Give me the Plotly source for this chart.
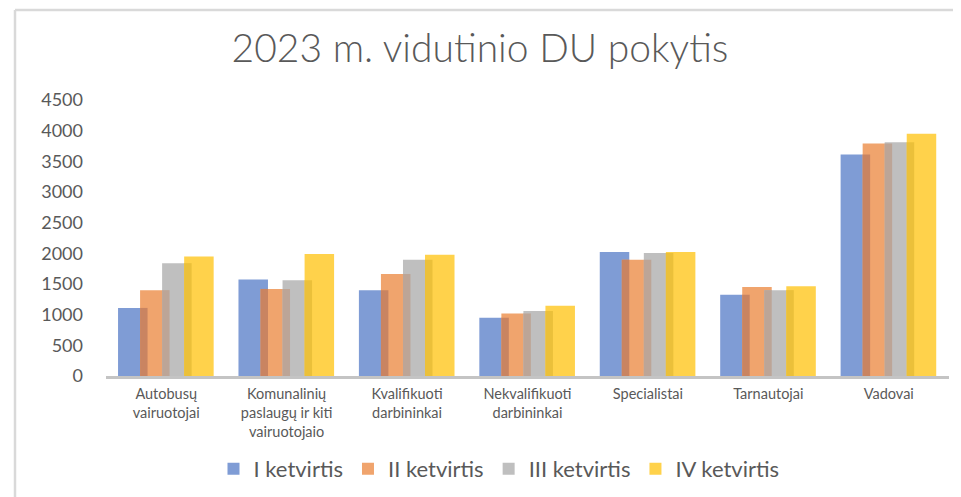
import plotly.graph_objects as go

categories = ["Autobusų<br>vairuotojai",
              "Komunalinių<br>paslaugų ir kiti<br>vairuotojaio",
              "Kvalifikuoti<br>darbininkai",
              "Nekvalifikuoti<br>darbininkai",
              "Specialistai",
              "Tarnautojai",
              "Vadovai"]
series_names = ["I ketvirtis", "II ketvirtis", "III ketvirtis", "IV ketvirtis"]
q1 = [1110, 1575, 1400, 950, 2020, 1325, 3610]
q2 = [1400, 1420, 1665, 1020, 1895, 1450, 3790]
q3 = [1840, 1560, 1895, 1060, 2005, 1400, 3810]
q4 = [1950, 1990, 1975, 1145, 2020, 1465, 3950]
y_ticks = [0, 500, 1000, 1500, 2000, 2500, 3000, 3500, 4000, 4500]

colors = ["#7F9CD5", "#F0A46D", "#BFBFBF", "#FFD24B"]
overlap_colors = ["#C98461", "#BCA597", "#EBC03A"]

series = [q1, q2, q3, q4]
bar_w = 0.245
step = 0.183
start = -0.4

fig = go.Figure()
for i, (name, vals) in enumerate(zip(series_names, series)):
    fig.add_trace(go.Bar(
        x=categories, y=vals, name=name,
        marker=dict(color=colors[i], line=dict(width=0)),
        width=bar_w, offset=start + i * step,
    ))

# darker overlap strips where neighbouring bars overlap (Excel-like shading)
for i in range(3):
    ov = [min(a, b) for a, b in zip(series[i], series[i + 1])]
    fig.add_trace(go.Bar(
        x=categories, y=ov, showlegend=False, hoverinfo="skip",
        marker=dict(color=overlap_colors[i], line=dict(width=0)),
        width=bar_w - step, offset=start + (i + 1) * step,
    ))

# page has an 8px body margin: work in page pixels and shift
O = 8
PW, PH = 961, 497
W, H = PW - O, PH - O
plot_left, plot_right, plot_top, plot_bottom = 106, 949, 100, 376
L = plot_left - O
R = PW - plot_right
T = plot_top - O
B = PH - plot_bottom
pw = plot_right - plot_left
ph = plot_bottom - plot_top

def px_x(p):
    return (p - plot_left) / pw

def px_y(p):
    return (plot_bottom - p) / ph

fig.update_layout(
    width=W, height=H,
    margin=dict(l=L, r=R, t=T, b=B, autoexpand=False),
    barmode="overlay",
    plot_bgcolor="white", paper_bgcolor="white",
    title=dict(text="2023 m. vidutinio DU pokytis", x=(480 - O) / W, xanchor="center",
               y=1 - (48 - O) / H, yanchor="middle",
               font=dict(family="Lato", size=39, color="#595959", weight=300)),
    font=dict(family="Lato", color="#595959"),
    xaxis=dict(showline=True, linecolor="#C4C4C4", linewidth=2.5, automargin=False,
               showgrid=False, ticks="", tickfont=dict(size=14.5, color="#595959"),
               ticklabelstandoff=3, zeroline=False),
    yaxis=dict(range=[0, 4500], tickvals=y_ticks, showgrid=False, zeroline=False,
               automargin=False,
               showline=False, ticks="", tickfont=dict(size=18, color="#595959"),
               ticklabelstandoff=22),
    legend=dict(orientation="h", x=px_x(499), xanchor="center",
                y=px_y(469), yanchor="middle",
                font=dict(size=22, color="#595959"), itemclick=False),
    showlegend=True,
    shapes=[
        dict(type="line", xref="paper", yref="paper",
             x0=px_x(15), x1=px_x(15), y0=px_y(10), y1=px_y(PH + 5),
             line=dict(color="#D9D9D9", width=2.5)),
        dict(type="line", xref="paper", yref="paper",
             x0=px_x(15), x1=px_x(PW + 5), y0=px_y(10), y1=px_y(10),
             line=dict(color="#D9D9D9", width=2.5)),
    ],
)

fig.write_html("out.html")
